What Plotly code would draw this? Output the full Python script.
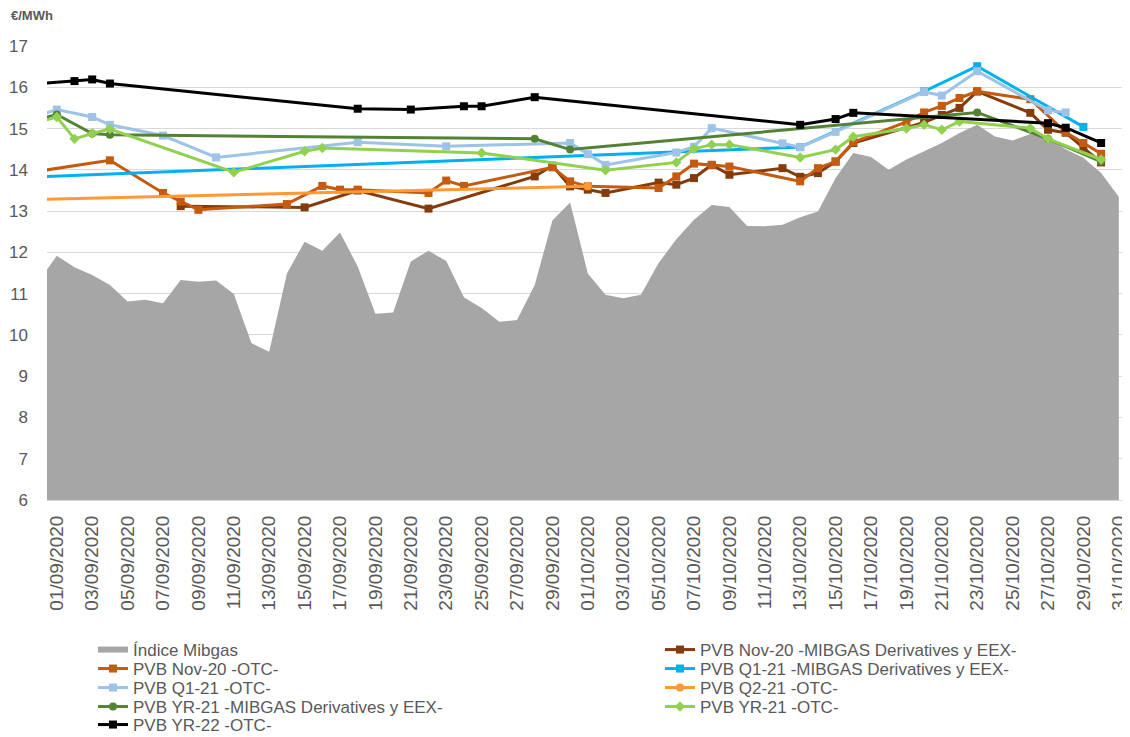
import pandas as pd
import plotly.graph_objects as go

# ---------------- data ----------------
mibgas_dates = pd.date_range("2020-08-31", "2020-10-31", freq="D")
mibgas_values = [11.31,
    11.92, 11.64, 11.45, 11.21, 10.81, 10.85, 10.77, 11.33, 11.29, 11.32,
    10.99, 9.80, 9.59, 11.49, 12.26, 12.04, 12.48, 11.66, 10.51, 10.54,
    11.78, 12.04, 11.79, 10.91, 10.65, 10.32, 10.36, 11.21, 12.77, 13.21,
    11.49, 10.97, 10.89, 10.97, 11.74, 12.32, 12.79, 13.15, 13.10, 12.64,
    12.63, 12.67, 12.85, 12.99, 13.80, 14.41, 14.31, 14.00, 14.25, 14.45,
    14.65, 14.89, 15.09, 14.81, 14.71, 14.87, 14.78, 14.50, 14.29, 13.92,
    13.35]

nov20_mib_dates = ["2020-09-08", "2020-09-15", "2020-09-18", "2020-09-22", "2020-09-28",
                   "2020-09-29", "2020-09-30", "2020-10-01", "2020-10-02", "2020-10-05",
                   "2020-10-06", "2020-10-07", "2020-10-08", "2020-10-09", "2020-10-12",
                   "2020-10-13", "2020-10-14", "2020-10-15", "2020-10-16", "2020-10-20",
                   "2020-10-21", "2020-10-22", "2020-10-23", "2020-10-26", "2020-10-27",
                   "2020-10-28", "2020-10-29", "2020-10-30"]
nov20_mib_values = [13.12, 13.09, 13.50, 13.06, 13.84,
                    14.10, 13.60, 13.52, 13.44, 13.69,
                    13.64, 13.80, 14.12, 13.88, 14.04,
                    13.83, 13.92, 14.20, 14.65, 15.15,
                    15.33, 15.50, 15.90, 15.38, 14.97,
                    14.90, 14.53, 14.18]

nov20_otc_dates = ["2020-08-31", "2020-09-04", "2020-09-07", "2020-09-08", "2020-09-09",
                   "2020-09-14", "2020-09-16", "2020-09-17", "2020-09-18", "2020-09-22",
                   "2020-09-23", "2020-09-24", "2020-09-29", "2020-09-30", "2020-10-01",
                   "2020-10-05", "2020-10-06", "2020-10-07", "2020-10-08", "2020-10-09",
                   "2020-10-13", "2020-10-14", "2020-10-15", "2020-10-16", "2020-10-19",
                   "2020-10-20", "2020-10-21", "2020-10-22", "2020-10-23", "2020-10-26",
                   "2020-10-28", "2020-10-29", "2020-10-30"]
nov20_otc_values = [13.97, 14.23, 13.44, 13.23, 13.03,
                    13.17, 13.61, 13.52, 13.52, 13.44,
                    13.74, 13.61, 14.06, 13.72, 13.60,
                    13.56, 13.84, 14.15, 14.12, 14.08,
                    13.72, 14.04, 14.20, 14.67, 15.16,
                    15.39, 15.55, 15.74, 15.90, 15.71,
                    14.91, 14.65, 14.39]

q121_mib_dates = ["2020-08-31", "2020-10-13", "2020-10-20", "2020-10-23", "2020-10-29"]
q121_mib_values = [13.83, 14.55, 15.90, 16.51, 15.04]

q121_otc_dates = ["2020-08-31", "2020-09-01", "2020-09-03", "2020-09-04", "2020-09-07",
                  "2020-09-10", "2020-09-18", "2020-09-23", "2020-09-30", "2020-10-01",
                  "2020-10-02", "2020-10-06", "2020-10-07", "2020-10-08", "2020-10-12",
                  "2020-10-13", "2020-10-15", "2020-10-20", "2020-10-21", "2020-10-23",
                  "2020-10-27", "2020-10-28"]
q121_otc_values = [15.32, 15.46, 15.28, 15.09, 14.83,
                   14.30, 14.67, 14.57, 14.65, 14.38,
                   14.12, 14.42, 14.56, 15.01, 14.64,
                   14.55, 14.92, 15.89, 15.80, 16.39,
                   15.44, 15.39]

q221_otc_dates = ["2020-08-31", "2020-10-01"]
q221_otc_values = [13.285, 13.60]

yr21_mib_dates = ["2020-08-31", "2020-09-01", "2020-09-03", "2020-09-04", "2020-09-28",
                  "2020-09-30", "2020-10-23", "2020-10-27", "2020-10-30"]
yr21_mib_values = [15.23, 15.34, 14.88, 14.85, 14.75,
                   14.49, 15.39, 14.75, 14.20]

yr21_otc_dates = ["2020-08-31", "2020-09-01", "2020-09-02", "2020-09-03", "2020-09-04",
                  "2020-09-11", "2020-09-15", "2020-09-16", "2020-09-25", "2020-10-02",
                  "2020-10-06", "2020-10-07", "2020-10-08", "2020-10-09", "2020-10-13",
                  "2020-10-15", "2020-10-16", "2020-10-19", "2020-10-20", "2020-10-21",
                  "2020-10-22", "2020-10-26", "2020-10-27", "2020-10-30"]
yr21_otc_values = [15.16, 15.28, 14.75, 14.88, 14.99,
                   13.94, 14.45, 14.53, 14.41, 13.99,
                   14.18, 14.51, 14.61, 14.61, 14.30,
                   14.49, 14.80, 15.00, 15.09, 14.97,
                   15.17, 15.01, 14.75, 14.25]

yr22_otc_dates = ["2020-08-31", "2020-09-02", "2020-09-03", "2020-09-04", "2020-09-18",
                  "2020-09-21", "2020-09-24", "2020-09-25", "2020-09-28", "2020-10-13",
                  "2020-10-15", "2020-10-16", "2020-10-27", "2020-10-28", "2020-10-30"]
yr22_otc_values = [16.09, 16.15, 16.19, 16.09, 15.48,
                   15.46, 15.54, 15.54, 15.76, 15.09,
                   15.23, 15.38, 15.13, 15.02, 14.65]

y_ticks = list(range(6, 18))

# ---------------- figure ----------------
FONT = "Liberation Sans, Arial, sans-serif"
TXT = "#595959"
# the page body has an 8px margin, so the figure is 8px smaller than the window
W, H = 1122, 729
ML, MR, MT, MB = 39, 2, 38, 237
PW, PH = W - ML - MR, H - MT - MB

fig = go.Figure()

# legend slot (column x px, row center y px) for each trace
col_x = [85, 652]
row_y = [642, 661, 680, 699, 717]
slots = [(0, 0), (1, 0), (0, 1), (1, 1), (0, 2), (1, 2), (0, 3), (1, 3), (0, 4)]

fig.add_trace(go.Scatter(
    x=mibgas_dates, y=mibgas_values, name="Índice Mibgas",
    mode="none", fill="tozeroy", fillcolor="#A6A6A6", legend="legend"))

line_series = [
    ("PVB Nov-20 -MIBGAS Derivatives y EEX-", nov20_mib_dates, nov20_mib_values, "#843C0C", "square"),
    ("PVB Nov-20 -OTC-", nov20_otc_dates, nov20_otc_values, "#C55A11", "square"),
    ("PVB Q1-21 -MIBGAS Derivatives y EEX-", q121_mib_dates, q121_mib_values, "#00B0F0", "square"),
    ("PVB Q1-21 -OTC-", q121_otc_dates, q121_otc_values, "#9DC3E6", "square"),
    ("PVB Q2-21 -OTC-", q221_otc_dates, q221_otc_values, "#FF9933", "circle"),
    ("PVB YR-21 -MIBGAS Derivatives y EEX-", yr21_mib_dates, yr21_mib_values, "#548235", "circle"),
    ("PVB YR-21 -OTC-", yr21_otc_dates, yr21_otc_values, "#92D050", "diamond"),
    ("PVB YR-22 -OTC-", yr22_otc_dates, yr22_otc_values, "#000000", "square"),
]
for i, (name, xs, ys, col, sym) in enumerate(line_series, start=2):
    fig.add_trace(go.Scatter(
        x=xs, y=ys, name=name, mode="lines+markers",
        line=dict(color=col, width=3),
        marker=dict(color=col, symbol=sym, size=8),
        legend=f"legend{i}"))

legend_layout = {}
for i, (c, r) in enumerate(slots, start=1):
    key = "legend" if i == 1 else f"legend{i}"
    legend_layout[key] = dict(
        x=col_x[c] / W, y=1 - row_y[r] / H, xref="container", yref="container",
        xanchor="left", yanchor="middle", orientation="v", itemwidth=30,
        font=dict(size=17, color=TXT, family=FONT), bgcolor="rgba(0,0,0,0)",
        borderwidth=0)

fig.update_layout(
    width=W, height=H,
    margin=dict(l=ML, r=MR, t=MT, b=MB, autoexpand=False),
    paper_bgcolor="white", plot_bgcolor="white",
    font=dict(family=FONT, color=TXT, size=16),
    showlegend=True,
    annotations=[dict(text="<b>€/MWh</b>",
                      x=(2 - ML) / PW, y=(H - MB - 8) / PH,
                      xref="paper", yref="paper", showarrow=False,
                      xanchor="left", yanchor="middle", borderpad=0,
                      font=dict(size=13, color=TXT, family=FONT))],
    **legend_layout,
)

fig.update_xaxes(
    type="date",
    range=["2020-08-31 10:42", "2020-10-31 12:28"],
    tick0="2020-09-01", dtick=2 * 86400000, tickformat="%d/%m/%Y",
    tickangle=-90, showgrid=False, zeroline=False,
    showline=True, linecolor="#D9D9D9", linewidth=1,
    ticks="", ticklabelstandoff=7, automargin=False,
    tickfont=dict(size=19, color=TXT, family=FONT))
fig.update_yaxes(
    range=[6, 17], tickvals=y_ticks, showgrid=True, gridcolor="#D9D9D9", gridwidth=1,
    zeroline=False, showline=False, ticks="", ticklabelstandoff=18, automargin=False,
    tickfont=dict(size=17, color=TXT, family=FONT))

fig.write_html("out.html")
